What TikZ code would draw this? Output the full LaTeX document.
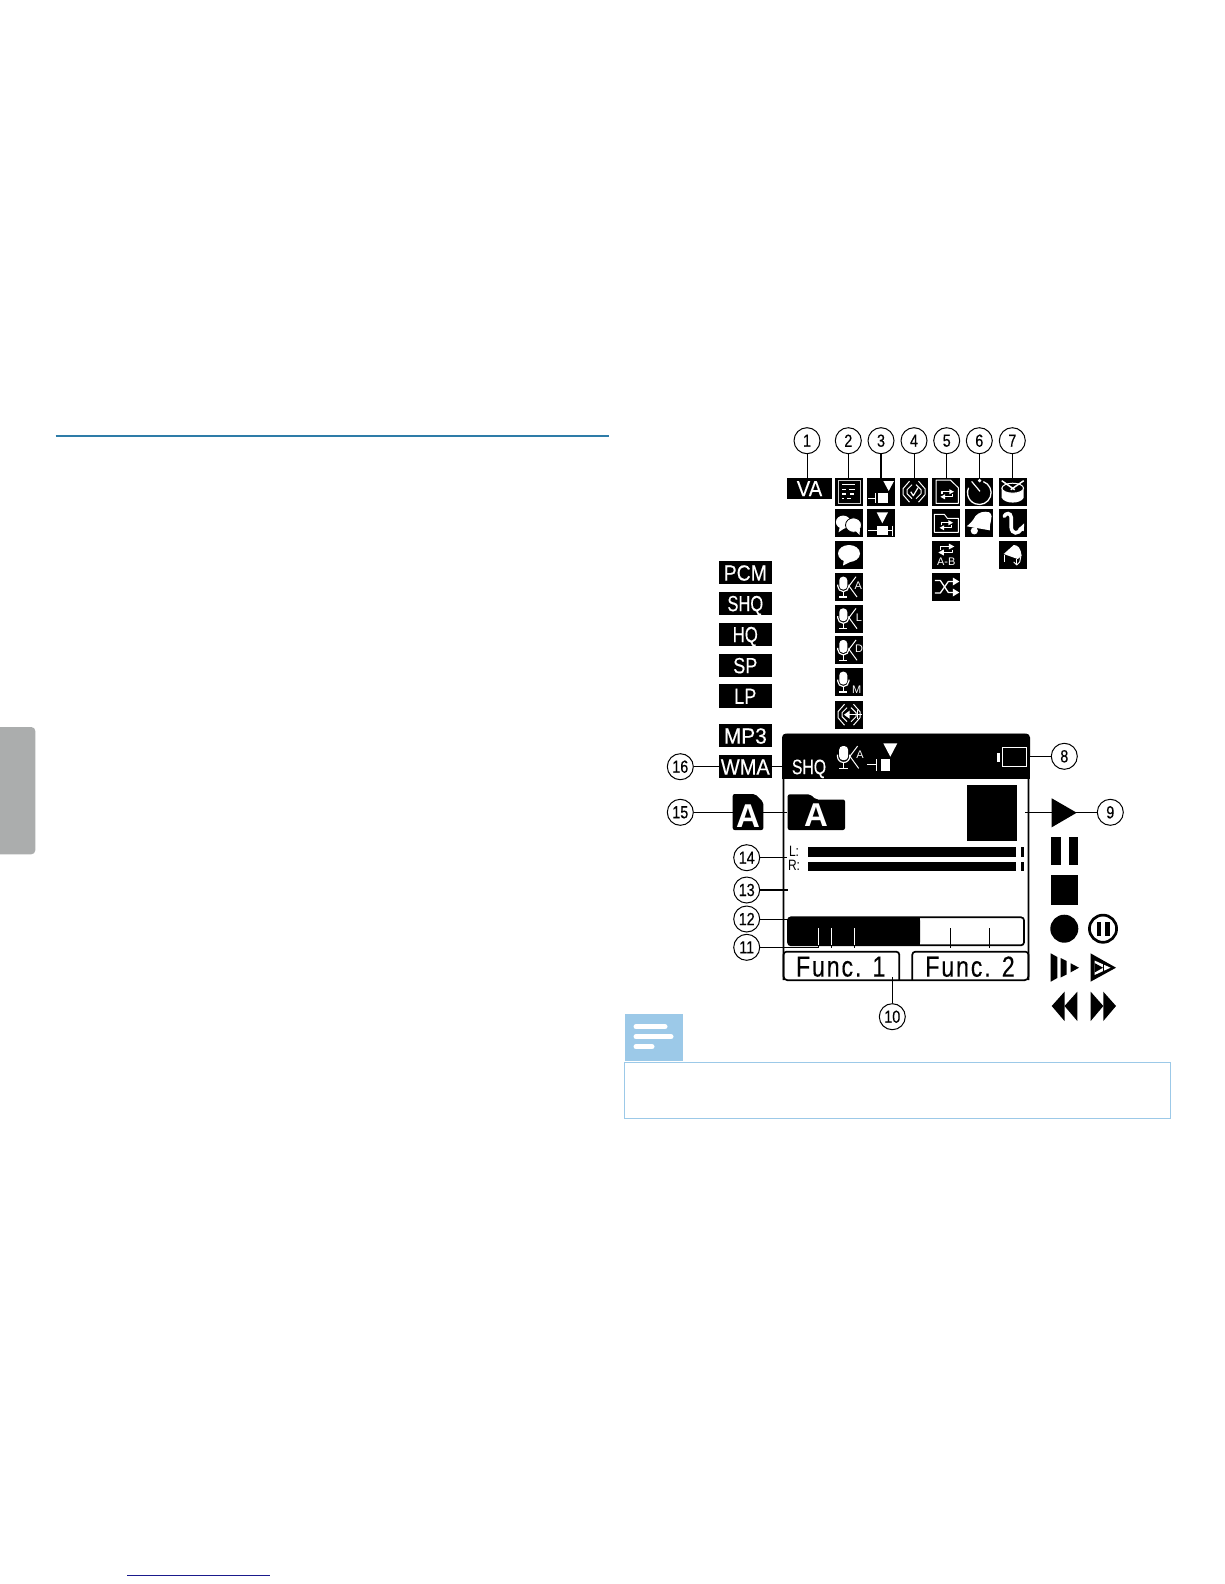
\documentclass[tikz,border=0pt]{standalone}
\usepackage{graphicx}
\usepackage{fontspec}
\setmainfont{Liberation Sans}
\newfontfamily\lcdfont[FakeBold=0.35]{Liberation Sans}
\newfontfamily\lcdwide[LetterSpace=8,FakeBold=0.25]{Liberation Sans}
\definecolor{notebl}{HTML}{9CC9E8}
\definecolor{rulebl}{HTML}{2E7CA8}
\definecolor{tabgr}{HTML}{ABADAD}
\definecolor{linkbl}{HTML}{1A1A8C}
\tikzset{
 callout/.style={circle,draw=black,line width=1pt,minimum size=26pt,inner sep=0pt,fill=white,font=\lcdfont\fontsize{17.5}{17.5}\selectfont},
 lead/.style={draw=black,line width=1pt},
 leadb/.style={draw=black,line width=1.5pt},
 iconbox/.style={rectangle,fill=black,minimum size=28pt,inner sep=0pt,outer sep=0pt},
 fmtbox/.style={rectangle,fill=black,text=white,minimum width=53.3pt,minimum height=23.3pt,inner sep=0pt,outer sep=0pt,text height=15.8pt,text depth=0pt,font=\lcdfont\fontsize{22}{22}\selectfont},
 wl/.style={draw=white,line width=1pt,line join=round},
 smalltxt/.style={text=white,inner sep=0pt,font=\fontsize{11}{11}\selectfont},
}
\newcommand{\numc}[4]{\node[callout] (#1) at (#2,#3) {\scalebox{.82}[1]{#4}};}
\newcommand{\ibox}[3]{\node[iconbox,anchor=north west] (#1) at (#2,#3) {};}
\newcommand{\rep}[2]{\begin{scope}[shift={(#1,#2)}]
 \draw[wl,line width=1.2pt] (-6,0)--(-6,-3)--(3,-3);\fill[white] (2.5,-6)--(8,-3)--(2.5,0)--cycle;
 \draw[wl,line width=1.2pt] (6,0)--(6,3)--(-3,3);\fill[white] (-2.5,0)--(-8,3)--(-2.5,6)--cycle;
\end{scope}}
\newcommand{\chev}{%
 \draw[wl] (9.5,3.5)--(3,11)--(3,17)--(9.5,24.5);\draw[wl] (12,7)--(7,12)--(7,16)--(12,21);
 \draw[wl] (18.5,3.5)--(25,11)--(25,17)--(18.5,24.5);\draw[wl] (16,7)--(21,12)--(21,16)--(16,21);}
\newcommand{\micshape}{%
 \fill[white,rounded corners=3.6pt] (4.3,3.7) rectangle (12.3,16.5);
 \draw[wl,line width=1.2pt] (2.7,11.5)--(2.7,13) arc[start angle=180,end angle=0,radius=5.6]--(13.9,11.5);
 \draw[wl,line width=1.4pt] (8.3,18.5)--(8.3,23.7);
 \draw[wl,line width=1.4pt] (4.3,24)--(12.3,24);}
\begin{document}
\begin{tikzpicture}[x=1pt,y=-1pt]
\useasboundingbox (0,0) rectangle (1224,1584);
\fill[white] (0,0) rectangle (1224,1584);
% page furniture
\draw[rulebl,line width=2pt] (55.5,435.7)--(609,435.7);
\fill[tabgr,rounded corners=4pt] (-6,727) rectangle (35.3,854.3);
\draw[linkbl,line width=1pt] (127,1575.3)--(270,1575.3);
% note
\fill[notebl] (624.5,1013.5) rectangle (682.7,1061);
\draw[white,line width=5pt,line cap=round] (636,1026.7)--(665,1026.7);
\draw[white,line width=5pt,line cap=round] (636,1036.7)--(671,1036.7);
\draw[white,line width=5pt,line cap=round] (636,1046.7)--(652,1046.7);
\draw[notebl,line width=1pt] (624.5,1062.3) rectangle (1170.5,1118);
% callouts
\numc{c1}{807}{440.7}{1}
\numc{c2}{848.3}{440.7}{2}
\numc{c3}{881}{440.7}{3}
\numc{c4}{914}{440.7}{4}
\numc{c5}{946.7}{440.7}{5}
\numc{c6}{979.3}{440.7}{6}
\numc{c7}{1012.3}{440.7}{7}
\numc{c8}{1064.3}{756.3}{8}
\numc{c9}{1110.3}{812.3}{9}
\numc{c10}{892.3}{1016.7}{10}
\numc{c11}{746.7}{947.3}{11}
\numc{c12}{746.7}{919}{12}
\numc{c13}{746.7}{890}{13}
\numc{c14}{746.7}{857.7}{14}
\numc{c15}{680.3}{812.3}{15}
\numc{c16}{680.3}{766.7}{16}
% format labels
\node[fmtbox,minimum width=45pt,minimum height=21.3pt] (va) at (809.5,488.3) {\scalebox{.92}[1]{VA}};
\node[fmtbox] (pcm) at (745.3,572.7) {\scalebox{.88}[1]{PCM}};
\node[fmtbox] (shq) at (745.3,603.3) {\scalebox{.75}[1]{SHQ}};
\node[fmtbox] (hq) at (745.3,634.3) {\scalebox{.76}[1]{HQ}};
\node[fmtbox] (sp) at (745.3,665.3) {\scalebox{.82}[1]{SP}};
\node[fmtbox] (lp) at (745.3,696) {\scalebox{.82}[1]{LP}};
\node[fmtbox] (mp3) at (745.3,735.7) {\scalebox{.95}[1]{MP3}};
\node[fmtbox] (wma) at (745.3,766.7) {\scalebox{.91}[1]{WMA}};
% icon boxes
\ibox{b21}{835}{477.7}\ibox{b22}{835}{509.3}\ibox{b23}{835}{541}\ibox{b24}{835}{573}
\ibox{b25}{835}{604.7}\ibox{b26}{835}{636.3}\ibox{b27}{835}{668}\ibox{b28}{835}{700.7}
\ibox{b31}{867}{477.7}\ibox{b32}{867}{509.3}
\ibox{b41}{900}{477.7}
\ibox{b51}{932.3}{477.7}\ibox{b52}{932.3}{509.3}\ibox{b53}{932.3}{541}\ibox{b54}{932.3}{573}
\ibox{b61}{965.3}{477.7}\ibox{b62}{965.3}{509.3}
\ibox{b71}{998.7}{477.7}\ibox{b72}{998.7}{509.3}\ibox{b73}{998.7}{541}
% 2-1 list
\begin{scope}[shift={(b21.north west)}]
 \draw[white!80!black,line width=1pt] (3.3,2.5) rectangle (25.7,25.8);
 \foreach \a/\b/\yy in {7/20/6.7,7/11/11.7,14/20/11.7,7/11/16.3,15/19/16.3,7/9/21,12/16/21}
  \draw[white,line width=1.4pt] (\a,\yy)--(\b,\yy);
\end{scope}
% 2-2 bubbles
\begin{scope}[shift={(b22.north west)}]
 \fill[white] (8.2,12.8) ellipse[x radius=7.3,y radius=6.5];
 \fill[white] (5,17)--(3.5,23)--(11,18)--cycle;
 \filldraw[fill=white,draw=black,line width=.8pt] (18.5,15.8) ellipse[x radius=8,y radius=7.2];
 \fill[white] (20,21)--(24.5,25.5)--(25,19)--cycle;
\end{scope}
% 2-3 bubble
\begin{scope}[shift={(b23.north west)}]
 \fill[white] (14,12.5) ellipse[x radius=11,y radius=8.5];
 \fill[white] (9,18)--(8,24.5)--(17,20)--cycle;
\end{scope}
% mics
\begin{scope}[shift={(b24.north west)}]
 \micshape\draw[wl] (21,3.7)--(14,13)--(22,24);
 \node[smalltxt] (ta) at (23.3,12.7) {A};
\end{scope}
\begin{scope}[shift={(b25.north west)}]
 \micshape\draw[wl] (21,3.7)--(14,13)--(22,24);
 \node[smalltxt] (tl) at (24,12.7) {L};
\end{scope}
\begin{scope}[shift={(b26.north west)}]
 \micshape\draw[wl] (21,3.7)--(14,13)--(22,24);
 \node[smalltxt] (td) at (24,12.7) {D};
\end{scope}
\begin{scope}[shift={(b27.north west)}]
 \micshape
 \node[smalltxt] (tm) at (21.7,21.5) {M};
\end{scope}
% 2-8
\begin{scope}[shift={(b28.north west)}]
 \chev
 \fill[white] (9,14)--(14.5,10)--(14.5,18)--cycle;
 \draw[wl] (14,14)--(27,14);\draw[wl] (22,9.5)--(22,18.5);
\end{scope}
% 3-1
\begin{scope}[shift={(b31.north west)}]
 \fill[white] (16.3,3.3)--(27,3.3)--(21.7,13.3)--cycle;
 \fill[white] (11.3,15) rectangle (21.3,25.7);
 \draw[wl,line width=1.3pt] (1.3,20.7)--(8.5,20.7);
 \draw[wl,line width=1.3pt] (8.5,15.5)--(8.5,25.7);
\end{scope}
% 3-2
\begin{scope}[shift={(b32.north west)}]
 \fill[white] (9.7,3)--(21,3)--(15.3,14)--cycle;
 \fill[white] (9.7,16.3) rectangle (20.5,26);
 \draw[wl,line width=1.3pt] (1.3,21.3)--(25.7,21.3);
 \draw[wl,line width=1.3pt] (25.7,16.3)--(25.7,26.3);
\end{scope}
% 4-1
\begin{scope}[shift={(b41.north west)}]
 \chev
 \draw[wl,line width=1.2pt] (10.7,14)--(13.3,18)--(18,10);
\end{scope}
% 5-1
\begin{scope}[shift={(b51.north west)}]
 \draw[white,line width=1pt,line join=round] (3.7,2.3)--(18,2.3)--(26,10)--(26,25.7)--(3.7,25.7)--cycle;
 \begin{scope}[scale=.85]\rep{17.5}{19.5}\end{scope}
\end{scope}
% 5-2
\begin{scope}[shift={(b52.north west)}]
 \draw[white,line width=1pt,line join=round] (2,5)--(12,5)--(15,9)--(26,9)--(26,23)--(2,23)--cycle;
 \begin{scope}[scale=.85]\rep{16.5}{18.8}\end{scope}
\end{scope}
% 5-3
\begin{scope}[shift={(b53.north west)}]
 \rep{14}{8.5}
 \node[smalltxt,font=\fontsize{11}{11}\selectfont] (tab) at (14,21) {A-B};
\end{scope}
% 5-4
\begin{scope}[shift={(b54.north west)}]
 \draw[wl,line width=1.3pt] (2.5,7.5)--(8,7.5)--(16,19.5)--(21,19.5);
 \draw[wl,line width=1.3pt] (2.5,20)--(8,20)--(16,8.5)--(21,8.5);
 \fill[white] (20.5,15.5)--(27,19.5)--(20.5,23.5)--cycle;
 \fill[white] (20.5,4.5)--(27,8.5)--(20.5,12.5)--cycle;
\end{scope}
% 6-1
\begin{scope}[shift={(b61.north west)}]
 \draw[white,line width=1.3pt] (14,15)++(-70:11.8) arc[start angle=-70,end angle=205,radius=11.8];
 \draw[wl,line width=1.2pt] (6.3,3.7)--(14.7,13.7);
 \fill[white] (14.3,2.9) circle[radius=1.8];
\end{scope}
% 6-2
\begin{scope}[shift={(b62.north west)}]
 \fill[white] (1.5,17) .. controls (5,14) and (8,11) .. (10,7) .. controls (13,3) and (19,1.5) .. (24,3)
  .. controls (27,5) and (26.5,9) .. (25.5,12) .. controls (24.5,16) and (24.5,18) .. (24.5,21) -- cycle;
 \fill[white] (9,21.5) circle[radius=3.6];
\end{scope}
% 7-1
\begin{scope}[shift={(b71.north west)}]
 \fill[white] (3,10) -- (25,10) -- (25,20) .. controls (22,26.5) and (6,26.5) .. (3,20) -- cycle;
 \filldraw[fill=black,draw=white,line width=1pt] (14,10.5) ellipse[x radius=10.8,y radius=5];
 \draw[wl,line width=1.5pt] (3,3)--(16,12);\draw[wl,line width=1.5pt] (25,3)--(12,12);
\end{scope}
% 7-2
\begin{scope}[shift={(b72.north west)}]
 \draw[white,line width=3.6pt,line cap=round] (5.5,7) .. controls (7,3.5) and (12,3) .. (12.5,8) -- (12.5,18) .. controls (13,25) and (20,25.5) .. (22.5,19);
 \fill[white] (19,20)--(25.5,14)--(25,22)--cycle;
\end{scope}
% 7-3
\begin{scope}[shift={(b73.north west)}]
 \fill[white,line join=round] (5,13)--(15,4) .. controls (20,4) and (22,8) .. (23,15)--(19,18)--cycle;
 \draw[wl] (6,14)--(6,21);\draw[wl] (18,18)--(18,24);\draw[wl] (22,16)--(21,21);\draw[wl] (15,21)--(18,24)--(21,21);
\end{scope}
% screen
\node[rectangle,draw=black,fill=white,line width=1.7pt,rounded corners=4pt,minimum width=245pt,minimum height=245.5pt,inner sep=0pt,outer sep=0pt] (scr) at (906,857.5) {};
\fill[black,rounded corners=4pt] (782,733.5) rectangle (1030,760);
\fill[black] (782,745) rectangle (1030,779);
\node[text=white,inner sep=0pt,text height=15pt,text depth=0pt,font=\lcdfont\fontsize{21}{21}\selectfont] (shqs) at (809,766.7) {\scalebox{.75}[1]{SHQ}};
\begin{scope}[shift={(834.5,742)},scale=1.1]
 \micshape\draw[wl] (21,3.7)--(14,13)--(22,24);
 \node[smalltxt] (tas) at (23.3,12) {A};
\end{scope}
\fill[white] (883.3,743.3)--(897.3,743.3)--(890.3,756.7)--cycle;
\fill[white] (880.7,759) rectangle (890,770.7);
\draw[wl,line width=1.4pt] (867.3,764.7)--(876.7,764.7);
\draw[wl,line width=1.4pt] (876.7,759)--(876.7,770.7);
\node[rectangle,draw=white,line width=1.2pt,minimum width=24pt,minimum height=19pt,inner sep=0pt,outer sep=0pt] (bat) at (1014.7,757.3) {};
\fill[white] (997,752.7) rectangle (1000,762);
% screen content
\fill[black] (967,785) rectangle (1017,840.7);
\fill[black,rounded corners=2pt] (787.7,798.5)--(787.7,794.3)--(810,794.3)--(816,799.5)--(845,799.5)--(845,830)--(787.7,830)--cycle;
\node[text=white,inner sep=0pt,font=\bfseries\fontsize{33}{33}\selectfont] (fa) at (816,815) {A};
\fill[black,rounded corners=2pt] (732.7,794)--(755,794)--(763.3,802)--(763.3,830)--(732.7,830)--cycle;
\node[text=white,inner sep=0pt,font=\bfseries\fontsize{33}{33}\selectfont] (ca) at (748,816) {A};
\node[inner sep=0pt,font=\fontsize{15}{15}\selectfont] (ll) at (794,851.7) {\scalebox{.8}[1]{L:}};
\node[inner sep=0pt,font=\fontsize{15}{15}\selectfont] (lr) at (794,865.7) {\scalebox{.8}[1]{R:}};
\fill[black] (808,847) rectangle (1016,857);
\fill[black] (808,862) rectangle (1016,871);
\fill[black] (1021,847) rectangle (1024,857);
\fill[black] (1021,862) rectangle (1024,871);
% progress bar
\node[rectangle,draw=black,fill=white,line width=1.7pt,rounded corners=3pt,minimum width=236pt,minimum height=28pt,inner sep=0pt,outer sep=0pt] (bar) at (906,931.3) {};
\fill[black,rounded corners=3pt] (788,917.3)--(788,945.3)--(920,945.3)--(920,917.3)--cycle;
\fill[black] (905,917.3) rectangle (920,945.3);
\foreach \tx in {818,831,854} {\draw[white,line width=1pt] (\tx,928.3)--(\tx,945.3);\draw[black,line width=1pt] (\tx,945.3)--(\tx,947.7);}
\foreach \tx in {950,989} {\draw[black,line width=1pt] (\tx,928.3)--(\tx,947.7);}
% function keys
\draw[black,line width=1.7pt,rounded corners=3pt] (783.5,980)--(783.5,951.7)--(899.3,951.7)--(899.3,980);
\draw[black,line width=1.7pt,rounded corners=3pt] (912.3,980)--(912.3,951.7)--(1028.5,951.7)--(1028.5,980);
\node[inner sep=0pt,font=\lcdwide\fontsize{29}{29}\selectfont] (f1) at (840.7,966.7) {\scalebox{.8}[1]{Func. 1}};
\node[inner sep=0pt,font=\lcdwide\fontsize{29}{29}\selectfont] (f2) at (970,966.7) {\scalebox{.8}[1]{Func. 2}};
% right icons
\fill[black] (1050.7,837.3) rectangle (1060.7,865);
\fill[black] (1069,837.3) rectangle (1078.3,865);
\fill[black] (1051,875) rectangle (1078,905);
\fill[black] (1064.3,928.7) circle[radius=14];
\draw[black,line width=2.7pt] (1103,928.7) circle[radius=13.6];
\fill[black] (1096.7,921.7) rectangle (1100.7,935.7);
\fill[black] (1105.3,921.7) rectangle (1110,935.7);
\fill[black] (1050.7,953.3)--(1057.3,957)--(1057.3,978)--(1050.7,981.7)--cycle;
\fill[black] (1060.7,958)--(1066.7,961)--(1066.7,974.5)--(1060.7,977.5)--cycle;
\fill[black] (1070.7,963.3)--(1079,967.7)--(1070.7,972.3)--cycle;
\fill[black] (1090.5,953.3)--(1116,967.7)--(1090.5,981.7)--cycle;
\fill[white] (1094.5,960.5)--(1110.5,967.7)--(1094.5,975)--cycle;
\fill[black] (1094.5,963)--(1103,967.7)--(1094.5,972.5)--cycle;
\draw[black,line width=.9pt] (1103,962.5)--(1103,973);
\fill[black] (1051.7,1006)--(1064.5,991.7)--(1064.5,1021)--cycle;
\fill[black] (1064.5,1006)--(1077.3,991.7)--(1077.3,1021)--cycle;
\fill[black] (1116,1006)--(1103.3,991.7)--(1103.3,1021)--cycle;
\fill[black] (1103.3,1006)--(1090.7,991.7)--(1090.7,1021)--cycle;
% connectors
\coordinate (p9) at (1025,812.3);
\coordinate (p10) at (892.3,976.7);
\coordinate (p11) at (818,947.7);
\coordinate (p12) at (788,919);
\coordinate (p13) at (788.3,890);
\coordinate (p14) at (786.7,857.7);
\coordinate (p15a) at (763.3,812.3);
\coordinate (p15) at (786.7,812.3);
\draw[lead] (c1.south)--(c1.south |- va.north);
\draw[lead] (c2.south)--(c2.south |- b21.north);
\draw[leadb] (c3.south)--(c3.south |- b31.north);
\draw[lead] (c4.south)--(c4.south |- b41.north);
\draw[leadb] (c5.south)--(c5.south |- b51.north);
\draw[leadb] (c6.south)--(c6.south |- b61.north);
\draw[lead] (c7.south)--(c7.south |- b71.north);
\draw[leadb] (c8.west)--(c8.west -| bat.east);
\draw[leadb] (c9.west)--(p9);
\fill[black] (1051.7,798.3)--(1076.7,812.7)--(1051.7,827.3)--cycle;
\draw[lead] (c10.north)--(p10);
\draw[leadb] (c11.east)--(p11 |- c11.east)--(p11);
\draw[lead] (c12.east)--(p12);
\draw[leadb] (c13.east)--(p13);
\draw[lead] (c14.east)--(p14);
\draw[leadb] (c15.east)--(c15.east -| ca.west);
\draw[leadb] (p15a)--(p15);
\draw[leadb] (c16.east)--(wma.west);
\draw[leadb] (wma.east)--(wma.east -| scr.west);
\end{tikzpicture}
\end{document}
